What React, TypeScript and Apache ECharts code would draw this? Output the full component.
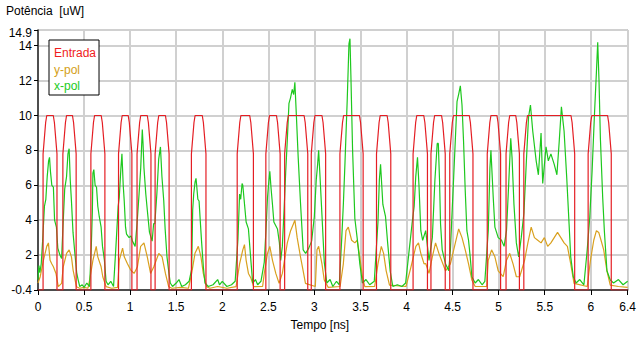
import { useEffect, useRef } from "react";
import * as echarts from "echarts";

// Entrada pulses: [start of high level, end of high level] in ns
const entradaPulses: [number, number][] = [
  [0.095, 0.166], [0.31, 0.374], [0.614, 0.686], [0.914, 0.979], [1.115, 1.186],
  [1.311, 1.383], [1.705, 1.783], [2.202, 2.298], [2.513, 2.588], [2.717, 2.888],
  [3.006, 3.082], [3.317, 3.489], [3.714, 3.789], [4.111, 4.187], [4.305, 4.38],
  [4.509, 4.681], [4.916, 4.981], [5.12, 5.185], [5.313, 5.785], [6.011, 6.182],
];
const entradaLow = 0;
const entradaHigh = 10;
const entradaEdge = 0.04;

const yPolPoints: [number, number][] = [
  [0, 0.4], [0.024, 0.76], [0.059, 1.7], [0.095, 2.5], [0.113, 2.7], [0.131, 1.7], [0.149, 1.5],
  [0.167, 1.33], [0.195, 0.95], [0.22, 0.19], [0.256, 0.38], [0.274, 1.33], [0.31, 2.1], [0.338, 2.3],
  [0.363, 1.9], [0.381, 1.14], [0.417, 0.19], [0.453, 0.1], [0.5, 0.15], [0.542, 0.1], [0.56, 0.57],
  [0.596, 1.7], [0.632, 2.5], [0.649, 1.9], [0.685, 1.33], [0.703, 0.76], [0.739, 0.19], [0.8, 0.1],
  [0.864, 0.15], [0.882, 1.7], [0.918, 2.4], [0.936, 1.9], [0.971, 1.5], [1.007, 1.14], [1.043, 0.95],
  [1.079, 1.33], [1.114, 2.5], [1.15, 2.7], [1.186, 1.9], [1.222, 0.95], [1.257, 1.33], [1.311, 2.1],
  [1.347, 1.9], [1.383, 0.95], [1.418, 0.19], [1.454, 0.1], [1.55, 0.15], [1.633, 0.1], [1.668, 0.95],
  [1.704, 2.1], [1.74, 2.5], [1.769, 1.9], [1.794, 0.95], [1.83, 0.19], [1.866, 0.1], [1.95, 0.2],
  [2.05, 0.1], [2.15, 0.19], [2.188, 1.5], [2.223, 2.3], [2.241, 2.6], [2.259, 1.7], [2.284, 0.95],
  [2.312, 0.67], [2.34, 0.19], [2.438, 0.2], [2.456, 0.95], [2.491, 2.1], [2.516, 2.5], [2.545, 1.7],
  [2.581, 0.95], [2.617, 0.38], [2.652, 0.95], [2.706, 2.7], [2.742, 3.4], [2.788, 4.0], [2.813, 3.0],
  [2.849, 1.9], [2.878, 1.1], [2.903, 0.38], [3.01, 0.2], [3.028, 2.3], [3.046, 2.5], [3.082, 1.5],
  [3.107, 0.57], [3.15, 0.15], [3.279, 0.2], [3.314, 1.5], [3.343, 3.4], [3.368, 3.6], [3.404, 2.85],
  [3.439, 2.7], [3.464, 2.85], [3.493, 1.9], [3.521, 0.76], [3.547, 0.19], [3.654, 0.2], [3.69, 1.5],
  [3.726, 2.5], [3.751, 2.1], [3.779, 1.1], [3.815, 0.28], [3.994, 0.2], [4.047, 1.3], [4.101, 2.5],
  [4.13, 2.7], [4.155, 2.1], [4.19, 1.5], [4.208, 1.52], [4.244, 0.95], [4.28, 1.9], [4.315, 2.7],
  [4.351, 2.1], [4.423, 1.1], [4.476, 1.5], [4.53, 2.7], [4.566, 3.5], [4.602, 3.0], [4.637, 2.3],
  [4.673, 1.5], [4.709, 0.57], [4.745, 0.2], [4.87, 0.2], [4.887, 1.7], [4.923, 2.3], [4.959, 1.9],
  [4.995, 1.1], [5.049, 0.76], [5.085, 1.7], [5.12, 2.1], [5.156, 1.5], [5.192, 0.76], [5.228, 0.76],
  [5.281, 1.7], [5.317, 2.7], [5.353, 3.6], [5.388, 3.0], [5.424, 2.85], [5.46, 2.7], [5.496, 3.0],
  [5.532, 2.5], [5.567, 2.7], [5.603, 3.0], [5.639, 3.3], [5.675, 3.0], [5.71, 2.7], [5.746, 2.5],
  [5.782, 1.5], [5.818, 0.38], [5.961, 0.2], [5.996, 1.7], [6.032, 2.85], [6.061, 3.4], [6.086, 3.3],
  [6.111, 2.85], [6.14, 2.3], [6.175, 1.1], [6.211, 0.28], [6.3, 0.2], [6.4, 0.15],
];

const xPolPoints: [number, number][] = [
  [0, 0.6], [0.01, 1.4], [0.02, 1.0], [0.035, 1.5], [0.05, 2.8], [0.07, 4.8], [0.085, 5.2], [0.1, 6.5],
  [0.115, 7.4], [0.125, 7.6], [0.135, 6.8], [0.15, 6.0], [0.167, 5.9], [0.18, 4.0], [0.2, 3.6],
  [0.215, 2.4], [0.238, 2.0], [0.256, 1.8], [0.27, 3.5], [0.29, 5.8], [0.31, 6.5], [0.325, 7.8],
  [0.338, 8.1], [0.35, 6.3], [0.363, 5.1], [0.38, 3.3], [0.4, 2.1], [0.42, 1.0], [0.435, 0.6],
  [0.453, 0.2], [0.48, 0.3], [0.5, 0.15], [0.53, 0.4], [0.56, 0.2], [0.578, 2.4], [0.59, 4.5],
  [0.596, 6.7], [0.606, 6.9], [0.62, 6.0], [0.635, 5.9], [0.649, 4.8], [0.665, 4.2], [0.685, 3.6],
  [0.7, 2.5], [0.721, 1.7], [0.739, 0.5], [0.76, 0.3], [0.79, 0.5], [0.82, 0.2], [0.846, 2.5],
  [0.87, 4.8], [0.882, 5.3], [0.9, 7.0], [0.911, 7.8], [0.925, 6.0], [0.936, 5.1], [0.95, 3.6],
  [0.961, 3.2], [0.989, 3.0], [1.01, 3.1], [1.025, 2.8], [1.054, 2.5], [1.075, 3.8], [1.097, 5.5],
  [1.115, 7.0], [1.132, 9.2], [1.14, 8.4], [1.15, 7.0], [1.17, 5.5], [1.186, 4.6], [1.21, 3.3],
  [1.239, 2.8], [1.255, 3.8], [1.268, 3.8], [1.29, 5.5], [1.31, 7.5], [1.329, 8.2], [1.345, 6.5],
  [1.365, 5.1], [1.38, 3.5], [1.4, 1.9], [1.42, 1.0], [1.436, 0.4], [1.46, 0.2], [1.5, 0.4],
  [1.53, 0.6], [1.56, 0.2], [1.6, 0.3], [1.64, 0.5], [1.668, 1.2], [1.679, 4.6], [1.69, 5.5],
  [1.705, 6.2], [1.715, 6.4], [1.722, 6.0], [1.735, 5.2], [1.748, 5.1], [1.775, 2.8], [1.795, 1.3],
  [1.812, 0.4], [1.848, 0.2], [1.9, 0.3], [1.95, 0.6], [1.97, 0.3], [2.0, 0.5], [2.05, 0.2],
  [2.1, 0.3], [2.14, 0.5], [2.17, 2.9], [2.188, 5.5], [2.2, 5.2], [2.215, 6.1], [2.223, 6.0],
  [2.24, 5.0], [2.259, 3.9], [2.284, 3.5], [2.312, 1.6], [2.33, 0.4], [2.36, 0.6], [2.384, 0.3],
  [2.42, 0.5], [2.456, 1.6], [2.475, 3.5], [2.491, 5.3], [2.505, 6.2], [2.516, 6.8], [2.53, 5.8],
  [2.545, 4.9], [2.56, 3.9], [2.599, 3.5], [2.62, 2.7], [2.634, 1.7], [2.652, 2.5], [2.67, 4.5],
  [2.688, 6.7], [2.705, 8.5], [2.724, 10.7], [2.74, 11.0], [2.76, 11.5], [2.775, 11.2], [2.788, 11.9],
  [2.806, 9.8], [2.824, 7.6], [2.849, 5.0], [2.878, 2.3], [2.905, 2.1], [2.939, 2.4], [2.97, 2.8],
  [2.999, 4.2], [3.02, 6.3], [3.035, 7.2], [3.046, 8.0], [3.06, 6.6], [3.082, 4.3], [3.107, 1.6],
  [3.135, 0.4], [3.17, 0.6], [3.2, 0.2], [3.24, 0.5], [3.27, 0.3], [3.296, 2.9], [3.315, 5.0],
  [3.332, 7.3], [3.357, 11.0], [3.375, 14.1], [3.386, 14.4], [3.396, 12.3], [3.414, 8.1],
  [3.439, 4.1], [3.468, 2.8], [3.493, 1.5], [3.521, 0.4], [3.56, 0.6], [3.6, 0.3], [3.65, 0.5],
  [3.69, 3.9], [3.705, 6.3], [3.718, 7.2], [3.743, 4.9], [3.772, 4.2], [3.795, 2.7], [3.822, 1.1],
  [3.851, 0.2], [3.9, 0.3], [3.95, 0.2], [3.99, 0.4], [4.029, 2.3], [4.06, 3.8], [4.083, 4.8],
  [4.1, 6.5], [4.119, 7.6], [4.135, 6.0], [4.155, 3.4], [4.175, 2.85], [4.208, 3.4], [4.244, 1.7],
  [4.28, 3.0], [4.308, 6.3], [4.333, 8.4], [4.345, 8.4], [4.358, 6.3], [4.369, 3.8], [4.387, 2.3],
  [4.423, 1.5], [4.458, 1.1], [4.476, 2.3], [4.512, 6.5], [4.548, 10.8], [4.565, 11.2], [4.584, 11.7],
  [4.602, 10.6], [4.619, 8.5], [4.637, 5.7], [4.655, 3.4], [4.673, 2.85], [4.691, 1.9], [4.709, 0.76],
  [4.745, 0.4], [4.78, 0.6], [4.82, 0.3], [4.85, 0.5], [4.887, 3.4], [4.905, 7.0], [4.916, 8.0],
  [4.941, 5.3], [4.959, 3.6], [4.995, 3.0], [5.031, 2.85], [5.059, 2.5], [5.085, 3.4], [5.109, 6.1],
  [5.131, 8.7], [5.145, 7.6], [5.166, 4.9], [5.192, 2.7], [5.217, 1.9], [5.245, 3.0], [5.274, 4.4],
  [5.299, 7.2], [5.324, 9.9], [5.345, 10.6], [5.37, 9.1], [5.407, 7.4], [5.431, 6.6], [5.46, 9.0],
  [5.478, 6.1], [5.514, 8.2], [5.539, 7.4], [5.567, 7.8], [5.603, 7.2], [5.632, 6.6], [5.657, 8.5],
  [5.681, 10.5], [5.71, 9.1], [5.739, 6.4], [5.764, 3.8], [5.782, 1.9], [5.81, 0.76], [5.84, 0.4],
  [5.88, 0.6], [5.925, 0.3], [5.961, 2.3], [5.989, 4.2], [6.014, 6.8], [6.04, 10.1], [6.061, 12.5],
  [6.075, 14.2], [6.089, 12.0], [6.104, 8.7], [6.129, 5.3], [6.147, 3.4], [6.175, 1.1], [6.211, 0.57],
  [6.247, 0.4], [6.3, 0.6], [6.35, 0.3], [6.4, 0.5],
];

const xTickValues = [0, 0.5, 1, 1.5, 2, 2.5, 3, 3.5, 4, 4.5, 5, 5.5, 6, 6.4];
const yTickValues = [0, 2, 4, 6, 8, 10, 12, 14, 14.9];
const yTickLabels = ["-0.4", "2", "4", "6", "8", "10", "12", "14", "14.9"];

const seriesNames = ["Entrada", "y-pol", "x-pol"];
const seriesColors = ["#e41e24", "#d9a01e", "#1ec81e"];
const legendColors = ["#f01c1c", "#d4a017", "#22cc22"];

function buildEntrada(): [number, number][] {
  const pts: [number, number][] = [[0, entradaLow]];
  for (const [a, b] of entradaPulses) {
    pts.push([a - entradaEdge, entradaLow]);
    pts.push([a - entradaEdge, entradaHigh * 0.78]);
    pts.push([a - entradaEdge * 0.3, entradaHigh * 0.96]);
    pts.push([a, entradaHigh]);
    pts.push([b, entradaHigh]);
    pts.push([b + entradaEdge * 0.3, entradaHigh * 0.96]);
    pts.push([b + entradaEdge, entradaHigh * 0.78]);
    pts.push([b + entradaEdge, entradaLow]);
  }
  pts.push([6.4, entradaLow]);
  return pts;
}

const FONT = "'Liberation Sans', Arial, sans-serif";

export default function App() {
  const ref = useRef<HTMLDivElement>(null);
  useEffect(() => {
    document.body.style.margin = "0";
    if (!ref.current) return;
    const chart = echarts.init(ref.current, undefined, { renderer: "svg" });
    const dataSets = [buildEntrada(), yPolPoints, xPolPoints];
    const lastY = yTickValues[yTickValues.length - 1];
    chart.setOption({
      animation: false,
      backgroundColor: "#ffffff",
      textStyle: { fontFamily: FONT },
      title: {
        text: "Potência  [uW]",
        left: 6,
        top: 5,
        padding: 0,
        textStyle: { fontSize: 12, fontWeight: "normal", color: "#000", fontFamily: FONT },
      },
      legend: {
        orient: "vertical",
        left: 49,
        top: 40,
        icon: "none",
        itemWidth: 0,
        itemHeight: 14,
        itemGap: 3.5,
        padding: [6, 3, 3, 0],
        backgroundColor: "#fff",
        borderColor: "#000",
        borderWidth: 1,
        borderRadius: 0,
        selectedMode: false,
        textStyle: { fontSize: 12, fontFamily: FONT },
        data: seriesNames.map((n, i) => ({ name: n, textStyle: { color: legendColors[i] } })),
      },
      grid: {
        left: 38,
        right: 5,
        top: 30,
        bottom: 47,
        show: true,
        borderColor: "#333",
        borderWidth: 1,
        backgroundColor: "transparent",
      },
      xAxis: {
        type: "value",
        min: 0,
        max: 6.4,
        interval: 0.5,
        name: "Tempo [ns]",
        nameLocation: "middle",
        nameGap: 29,
        nameTextStyle: { fontSize: 12, color: "#000", fontFamily: FONT, padding: [0, 26, 0, 0] },
        axisLine: { show: true, onZero: false, lineStyle: { color: "#222", width: 1.5 } },
        axisTick: { show: true, length: 5, lineStyle: { color: "#000" } },
        axisLabel: {
          customValues: xTickValues,
          formatter: (v: number) => String(v),
          margin: 11,
          fontSize: 12,
          color: "#000",
          fontFamily: FONT,
        },
        splitLine: { show: true, lineStyle: { color: "#d0d0d0", width: 2 } },
      },
      yAxis: {
        type: "value",
        min: 0,
        max: 14.9,
        interval: 2,
        axisLine: { show: true, onZero: false, lineStyle: { color: "#222", width: 1.5 } },
        axisTick: { show: true, length: 4, lineStyle: { color: "#000" } },
        axisLabel: {
          customValues: yTickValues,
          formatter: (v: number) => {
            const i = yTickValues.indexOf(v);
            const s = i >= 0 ? yTickLabels[i] : String(v);
            return v === lastY ? "{top|" + s + "}" : s;
          },
          rich: {
            top: { fontSize: 12, color: "#000", fontFamily: FONT, padding: [6, 0, 0, 0] },
          },
          margin: 6,
          fontSize: 12,
          color: "#000",
          fontFamily: FONT,
        },
        splitLine: { show: true, lineStyle: { color: "#d0d0d0", width: 2 } },
      },
      series: seriesNames.map((n, i) => ({
        name: n,
        type: "line",
        data: dataSets[i],
        showSymbol: false,
        symbol: "none",
        z: i === 0 ? 5 : 3 + i * 0.1,
        color: seriesColors[i],
        lineStyle: { color: seriesColors[i], width: 1.2 },
      })),
    });
    return () => chart.dispose();
  }, []);
  return <div ref={ref} style={{ width: 639, height: 337 }} />;
}
